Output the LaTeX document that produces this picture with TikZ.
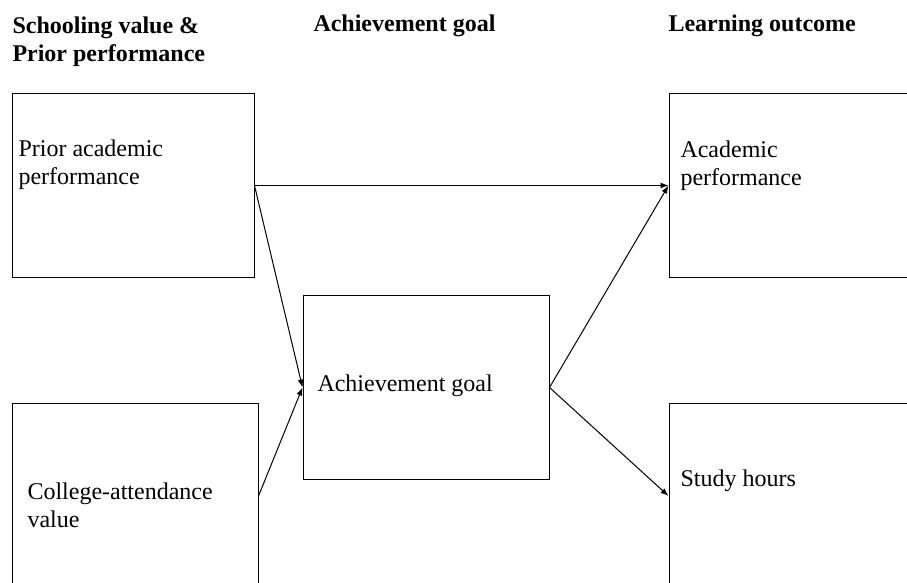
\documentclass[tikz,border=0pt]{standalone}
\usepackage{fontspec}
\setmainfont{Liberation Serif}
\usetikzlibrary{arrows.meta,positioning}
\begin{document}
\begin{tikzpicture}[x=0.5pt, y=-0.5pt, line width=0.5pt, >={Latex[length=4pt,width=3pt]},
  main/.style = {draw, minimum width=123pt, minimum height=92pt, inner sep=0pt},
  txt/.style = {anchor=base west, inner sep=0pt, align=left, font=\fontsize{12}{14}\selectfont},
  head/.style = {txt, font=\fontsize{12}{14}\selectfont\bfseries}]
\useasboundingbox (0,0) rectangle (907,583);
\clip (0,0) rectangle (907,583);
% column headings
\node[head] (h1) at (12,62) {Schooling value \&\\Prior performance};
\node[head] (h2) at (313,32) {Achievement goal};
\node[head] (h3) at (668,32) {Learning outcome};
% boxes
\node[main, minimum width=121pt] (prior) at (133,185.5) {};
\node[main] (value) at (135,496) {};
\node[main] (goal) at (426,387.5) {};
\node[main] (perf) at (792,185.5) {};
\node[main] (hours) at (792,496) {};
\node[txt] (t1) at (18,185) {Prior academic\\performance};
\node[txt] (t2) at (27,528) {College-attendance\\value};
\node[txt] (t3) at (317,392) {Achievement goal};
\node[txt] (t4) at (680,186) {Academic\\performance};
\node[txt] (t5) at (680,487) {Study hours};
% paths
\draw[->] (prior.east) -- (goal.west);
\draw[->] (value.east) -- (goal.west);
\draw[->] (prior.east) -- (perf.west);
\draw[->] (goal.east) -- (perf.west);
\draw[->] (goal.east) -- (hours.west);
\end{tikzpicture}
\end{document}
